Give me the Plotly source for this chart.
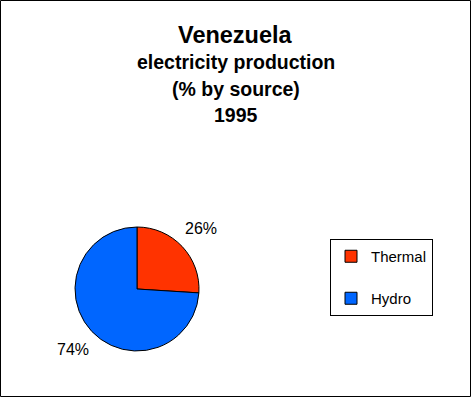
import math
import plotly.graph_objects as go

labels = ["Thermal", "Hydro"]
values = [26, 74]
colors = ["#FF3300", "#0066FF"]
title_lines = ["Venezuela", "electricity production", "(% by source)", "1995"]

W, H = 471, 397
pie_x = [75 / W, 199 / W]
pie_y = [(H - 351) / H, (H - 227) / H]

legend_labels = [labels[0] + "<br> ", labels[1]]

fig = go.Figure(go.Pie(
    labels=legend_labels,
    values=values,
    sort=False,
    direction="clockwise",
    rotation=0,
    marker=dict(colors=colors, line=dict(color="black", width=1)),
    textinfo="none",
    domain=dict(x=pie_x, y=pie_y),
    hoverinfo="label+percent",
))

# percentage labels placed outside along each slice's mid-angle
cx_px = (pie_x[0] + pie_x[1]) / 2 * W
cy_px = (1 - (pie_y[0] + pie_y[1]) / 2) * H
r_px = (pie_x[1] - pie_x[0]) * W / 2
label_r = r_px * 1.42
total = sum(values)
cum = 0
for v in values:
    mid = (cum + v / 2) / total * 2 * math.pi
    cum += v
    px = cx_px + label_r * math.sin(mid)
    py = cy_px - label_r * math.cos(mid)
    fig.add_annotation(text="%d%%" % round(100 * v / total), x=px / W, y=1 - py / H,
                       xref="paper", yref="paper", xanchor="center", yanchor="middle",
                       showarrow=False,
                       font=dict(size=16, color="black", family="Liberation Sans, Arial"))

title_y = [35, 62, 89, 115]
title_sizes = [23.5, 19.5, 19.5, 19.5]
for t, y, s in zip(title_lines, title_y, title_sizes):
    fig.add_annotation(text="<b>%s</b>" % t, x=0.5, y=1 - y / H, xref="paper", yref="paper",
                       xanchor="center", yanchor="middle", showarrow=False,
                       font=dict(size=s, color="black", family="Liberation Sans, Arial"))

fig.add_shape(type="rect", xref="paper", yref="paper",
              x0=0.5 / W, x1=1 - 0.5 / W, y0=0.5 / H, y1=1 - 0.5 / H,
              line=dict(color="black", width=1))

fig.update_layout(
    width=W, height=H,
    margin=dict(l=0, r=0, t=0, b=0),
    paper_bgcolor="white", plot_bgcolor="white",
    showlegend=True,
    legend=dict(x=330 / W, y=1 - 239 / H, xanchor="left", yanchor="top",
                bordercolor="black", borderwidth=1, bgcolor="white",
                valign="top",
                font=dict(size=15, color="black", family="Liberation Sans, Arial")),
)

fig.write_html("out.html", config={"displayModeBar": False},
               post_script="document.body.style.margin='0';")
